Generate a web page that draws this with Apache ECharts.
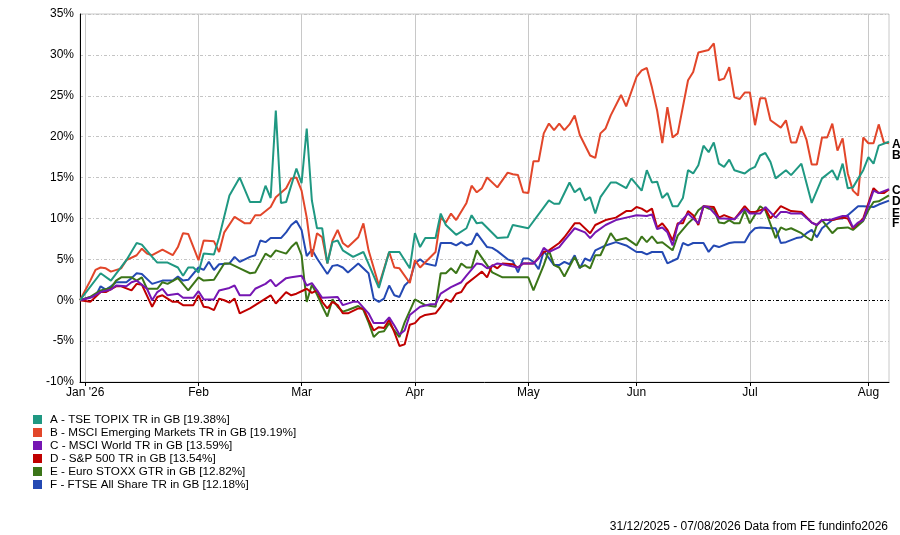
<!DOCTYPE html>
<html>
<head>
<meta charset="utf-8">
<title>Performance chart</title>
<script src="https://cdn.jsdelivr.net/npm/echarts@6/dist/echarts.min.js"></script>
<style>
  html, body { margin: 0; padding: 0; background: #fff; }
  #chart { width: 900px; height: 535px; }
</style>
</head>
<body>
<div id="chart"></div>
<script>
// trading days (weekdays) from 31/12/2025 to 07/08/2026
var days = [];
var d = new Date(Date.UTC(2025, 11, 31));
var endDay = Date.UTC(2026, 7, 7);
while (d.getTime() <= endDay) {
  if (d.getUTCDay() % 6 !== 0) days.push(d.toISOString().slice(0, 10));
  d.setUTCDate(d.getUTCDate() + 1);
}

// month tick labels
var monthLabels = ["Jan '26", 'Feb', 'Mar', 'Apr', 'May', 'Jun', 'Jul', 'Aug'];
var yTicks = { min: -10, max: 35, step: 5 };

var names = [
  'A - TSE TOPIX TR in GB [19.38%]',
  'B - MSCI Emerging Markets TR in GB [19.19%]',
  'C - MSCI World TR in GB [13.59%]',
  'D - S&P 500 TR in GB [13.54%]',
  'E - Euro STOXX GTR in GB [12.82%]',
  'F - FTSE All Share TR in GB [12.18%]'
];
var letters = ['A', 'B', 'C', 'D', 'E', 'F'];
var colors = ['#1f9882', '#e2462a', '#7616b3', '#c00000', '#3b7518', '#2449b3'];

// [trading day index, cumulative return %]
var topix = [[0,0],[4,3.3],[6,2.4],[9,4.9],[11,7.0],[12,6.8],[14,5.3],[15,4.6],[17,4.6],[19,4.0],[20,3.0],[21,4.0],[22,4.0],[23,3.4],[24,5.7],[26,5.6],[27,7.7],[29,12.8],[31,15.0],[33,12.0],[35,12.0],[36,14.0],[37,12.5],[38,23.2],[39,11.9],[40,12.0],[42,16.1],[43,14.3],[44,21.0],[45,12.2],[46,8.8],[47,8.8],[48,4.5],[49,7.1],[50,7.3],[51,6.1],[53,5.3],[55,5.9],[58,1.5],[60,5.9],[62,5.9],[64,3.9],[65,8.2],[66,6.5],[67,7.6],[69,7.6],[70,10.6],[71,9.2],[73,8.0],[75,8.8],[76,10.4],[77,9.4],[78,9.5],[81,7.6],[83,7.7],[84,9.2],[87,8.8],[91,12.2],[92,11.8],[93,11.8],[95,14.4],[96,13.2],[97,13.7],[98,12.2],[99,12.6],[100,10.6],[101,12.6],[103,14.4],[104,14.4],[106,13.7],[107,14.9],[109,13.4],[110,15.9],[111,14.4],[112,14.5],[113,12.5],[114,13.1],[115,11.5],[116,11.5],[117,12.5],[118,15.9],[119,15.5],[120,16.5],[121,18.9],[122,18.1],[123,19.3],[124,16.7],[125,16.3],[126,17.2],[127,15.9],[129,15.5],[130,16.0],[131,16.3],[132,17.7],[133,18.0],[134,16.9],[135,14.9],[137,15.9],[138,15.3],[140,16.7],[142,11.9],[144,14.9],[146,15.9],[147,14.7],[148,16.7],[149,13.7],[150,13.8],[152,15.9],[153,17.5],[154,16.7],[155,18.9],[157,19.38]];

var emerging = [[0,0],[2,2.4],[3,3.7],[4,4.0],[5,3.9],[6,3.5],[8,3.9],[9,4.9],[11,5.5],[12,6.3],[13,5.7],[14,5.5],[16,6.2],[18,5.5],[19,6.5],[20,8.2],[21,8.1],[23,4.9],[24,7.3],[26,7.2],[27,5.9],[28,8.3],[30,10.2],[32,9.4],[33,9.4],[34,10.4],[35,10.4],[37,11.4],[38,12.6],[40,13.7],[41,14.9],[42,15.0],[43,13.4],[44,10.1],[45,5.3],[46,8.2],[47,7.7],[48,4.5],[49,7.3],[50,8.6],[51,7.0],[52,6.5],[54,7.7],[55,9.4],[56,6.1],[58,1.8],[60,5.9],[61,4.0],[62,3.9],[64,2.1],[65,4.9],[66,4.0],[69,5.9],[70,10.1],[71,9.5],[72,10.6],[73,9.8],[75,11.9],[76,14.0],[77,13.2],[78,13.7],[79,15.0],[81,13.8],[83,15.6],[84,15.4],[85,15.3],[86,13.2],[87,13.1],[88,17.0],[89,17.0],[90,20.4],[91,21.6],[92,20.8],[93,21.6],[94,20.8],[95,21.5],[96,22.6],[97,20.2],[99,17.7],[100,17.4],[101,20.4],[102,21.0],[103,22.6],[105,25.1],[106,23.7],[108,27.3],[109,28.1],[110,28.4],[111,26.0],[112,23.2],[113,19.2],[114,23.6],[115,19.9],[116,20.4],[118,26.9],[119,27.9],[120,30.3],[122,30.6],[123,31.4],[124,26.9],[125,27.1],[126,28.5],[127,24.8],[128,24.6],[129,25.4],[130,25.4],[131,21.4],[132,24.7],[133,24.7],[134,22.0],[136,21.1],[137,22.0],[138,19.3],[139,19.3],[140,21.3],[141,19.6],[142,16.6],[143,16.6],[144,19.9],[145,19.9],[146,21.6],[147,18.3],[148,19.8],[149,15.5],[150,13.4],[151,12.8],[152,19.9],[153,19.2],[154,19.2],[155,21.5],[156,19.3],[157,19.19]];

var world = [[0,0],[2,0.3],[4,1.0],[6,1.3],[7,1.8],[9,1.7],[10,2.2],[11,2.4],[13,1.4],[14,0.0],[15,1.0],[16,1.4],[17,0.6],[19,0.8],[20,0.3],[22,0.3],[23,1.1],[24,0.1],[26,0.1],[27,1.2],[29,1.5],[30,1.8],[31,0.6],[33,0.6],[34,1.4],[36,2.0],[37,2.5],[38,1.7],[40,2.7],[41,2.8],[43,3.0],[44,1.8],[45,2.1],[46,1.2],[47,0.3],[50,0.4],[51,-0.6],[53,-0.2],[54,-0.2],[56,-1.6],[57,-2.8],[59,-2.8],[60,-2.1],[61,-3.1],[62,-4.2],[63,-3.7],[64,-1.8],[66,-0.8],[68,-0.5],[69,-0.5],[70,0.8],[71,1.2],[72,1.6],[74,2.2],[75,3.0],[77,4.5],[78,4.4],[79,3.9],[81,4.5],[82,4.4],[85,4.0],[86,4.5],[88,4.5],[89,5.1],[90,6.4],[91,5.9],[93,6.5],[94,7.3],[96,8.8],[98,8.3],[99,7.6],[100,8.3],[102,9.2],[104,9.8],[106,10.1],[108,10.4],[110,10.3],[111,10.5],[112,8.7],[113,8.9],[114,8.3],[115,6.7],[116,9.2],[118,10.6],[119,10.0],[120,9.4],[121,11.5],[122,11.4],[124,10.0],[125,10.0],[127,9.9],[129,11.2],[130,10.6],[132,10.6],[133,11.4],[135,10.1],[136,10.8],[137,10.8],[138,10.6],[140,10.6],[142,9.5],[143,9.2],[144,9.8],[145,9.8],[146,9.9],[148,10.3],[149,10.3],[150,8.9],[151,9.5],[152,9.8],[154,13.4],[155,13.1],[157,13.59]];

var sp500 = [[0,0],[2,-0.2],[3,0.4],[4,1.0],[5,1.0],[7,1.7],[8,1.7],[10,1.2],[11,2.0],[12,1.9],[14,-0.8],[15,0.4],[16,0.6],[18,-0.2],[19,-0.2],[20,-0.6],[22,-0.6],[23,0.6],[24,-0.8],[25,-0.9],[26,-1.2],[27,0.2],[28,0.0],[29,-0.3],[30,0.2],[31,-1.6],[33,-1.0],[35,-0.2],[36,0.2],[37,0.6],[38,-0.4],[40,1.0],[41,0.6],[42,0.8],[43,1.1],[44,1.4],[45,0.9],[46,1.2],[47,-0.2],[48,-1.0],[49,-0.2],[50,-0.6],[51,-1.6],[52,-1.6],[54,-1.0],[55,-1.0],[56,-2.4],[57,-3.7],[58,-3.3],[59,-3.4],[60,-2.4],[61,-3.9],[62,-5.6],[63,-5.4],[64,-3.0],[65,-2.8],[66,-2.1],[67,-1.8],[69,-1.6],[70,-0.8],[71,0.1],[72,-0.2],[73,0.8],[74,1.0],[75,2.0],[77,3.0],[78,3.5],[79,2.8],[80,4.3],[81,3.9],[82,4.5],[84,4.4],[85,4.0],[86,4.5],[88,4.5],[90,5.9],[91,6.1],[93,7.0],[94,7.7],[96,9.4],[97,9.4],[99,8.2],[100,9.2],[102,9.8],[104,10.1],[106,10.9],[107,10.9],[108,11.4],[109,11.2],[110,10.8],[111,11.2],[112,8.9],[113,9.4],[114,8.6],[115,7.3],[116,9.4],[117,9.4],[118,10.9],[119,10.4],[120,9.2],[121,11.5],[123,11.4],[124,10.1],[125,10.4],[127,9.9],[129,11.5],[130,10.8],[131,10.8],[133,11.2],[134,10.0],[136,11.5],[137,11.2],[138,10.9],[140,10.8],[142,9.5],[143,9.2],[144,9.8],[146,9.8],[148,10.1],[149,10.0],[150,8.8],[151,9.4],[152,10.0],[154,13.7],[155,13.1],[156,13.1],[157,13.54]];

var stoxx = [[0,0],[2,0.4],[4,1.2],[6,1.5],[7,2.4],[8,2.8],[10,2.8],[11,2.4],[12,2.8],[13,1.4],[15,1.4],[16,2.2],[17,2.0],[19,2.7],[21,1.2],[23,2.8],[24,2.4],[26,2.5],[28,4.5],[29,4.5],[31,3.9],[33,3.3],[34,3.4],[36,5.7],[37,5.3],[38,6.1],[40,5.7],[41,6.5],[42,7.1],[43,5.5],[44,-0.2],[45,1.9],[46,0.7],[47,-0.7],[48,-2.0],[49,0.1],[50,-0.8],[51,-1.4],[52,-1.2],[54,-0.7],[55,-1.2],[56,-2.7],[57,-4.5],[58,-3.9],[59,-3.8],[60,-2.8],[61,-3.7],[62,-4.5],[63,-2.7],[65,0.1],[67,-0.6],[69,-0.8],[70,3.3],[71,3.3],[72,3.9],[73,3.3],[74,4.5],[75,4.0],[76,4.0],[77,6.1],[79,4.3],[80,3.4],[82,2.8],[87,2.8],[88,1.2],[90,4.3],[91,6.1],[92,4.3],[93,4.0],[94,2.9],[96,5.3],[97,4.0],[98,4.3],[99,3.9],[100,5.5],[101,5.5],[103,8.2],[104,7.3],[106,7.6],[108,6.7],[109,7.8],[110,7.1],[111,7.8],[112,7.0],[113,7.1],[115,6.1],[116,7.9],[118,9.4],[119,10.0],[120,11.0],[121,11.5],[122,11.2],[123,11.2],[124,9.5],[125,9.4],[126,9.8],[127,9.4],[128,9.4],[129,11.0],[130,9.4],[132,11.5],[133,11.0],[135,7.6],[136,8.9],[137,8.6],[138,8.8],[140,8.2],[141,7.7],[142,7.3],[143,9.2],[144,9.8],[146,8.2],[147,8.8],[149,8.9],[150,8.6],[152,9.7],[153,11.0],[154,12.0],[155,12.1],[157,12.82]];

var ftse = [[0,0],[2,0.4],[3,0.5],[4,1.7],[5,1.3],[6,1.7],[7,2.2],[9,2.2],[10,2.7],[11,3.3],[12,3.2],[14,2.0],[16,2.4],[18,2.4],[19,2.9],[20,2.4],[21,2.5],[23,4.0],[24,3.7],[25,4.7],[26,3.7],[27,4.4],[29,4.5],[30,5.3],[31,4.7],[33,5.3],[34,5.5],[35,7.3],[36,7.1],[37,7.6],[39,7.6],[40,8.3],[41,9.2],[42,9.7],[43,8.6],[44,5.4],[45,6.2],[46,5.1],[48,3.2],[49,4.2],[50,4.3],[51,4.0],[52,3.4],[54,4.5],[56,3.3],[57,0.2],[58,-0.2],[59,0.2],[60,1.8],[61,0.6],[62,0.4],[63,1.8],[64,2.4],[65,4.5],[66,5.0],[67,4.5],[69,4.2],[70,7.0],[72,7.0],[73,6.7],[74,7.1],[75,6.7],[76,6.9],[77,8.2],[79,6.5],[80,6.4],[81,6.0],[83,5.0],[84,4.8],[85,3.4],[86,5.1],[87,5.1],[88,4.7],[89,3.8],[90,6.0],[92,4.3],[93,4.3],[94,4.7],[95,4.4],[96,5.5],[97,3.9],[98,5.1],[99,4.8],[100,6.1],[102,6.7],[104,7.1],[106,6.7],[108,5.9],[109,5.9],[110,5.6],[111,5.9],[113,5.9],[114,4.5],[116,5.1],[117,7.0],[118,6.7],[119,7.0],[121,7.0],[122,5.9],[123,6.7],[124,6.5],[126,7.0],[127,7.1],[129,7.1],[130,8.2],[131,8.8],[132,8.9],[134,8.8],[135,8.8],[136,7.0],[137,7.1],[139,7.6],[140,7.7],[141,8.2],[142,8.6],[143,7.7],[144,8.8],[146,9.8],[147,10.0],[148,10.0],[149,10.4],[151,11.5],[152,11.5],[154,11.4],[155,11.7],[157,12.18]];

var values = [topix, emerging, world, sp500, stoxx, ftse];
// vertical nudge of the A..F end letters so they do not overlap
var letterShift = [3, 12, 2, 12, 18, 23];

var font = 'Liberation Sans, Arial, sans-serif';

function isMonthStart(i) {
  return i > 0 && days[i].slice(5, 7) !== days[i - 1].slice(5, 7);
}

var series = [];
for (var k = values.length - 1; k >= 0; k--) {
  var s = {
    name: names[k],
    type: 'line',
    data: values[k],
    symbol: 'none',
    lineStyle: { width: 2, color: colors[k] },
    itemStyle: { color: colors[k] },
    endLabel: {
      show: true,
      formatter: letters[k],
      color: '#000',
      fontFamily: font,
      fontSize: 12,
      fontWeight: 'bold',
      distance: 3,
      offset: [0, letterShift[k]]
    },
    z: 10 - k
  };
  if (k === 0) {
    s.markLine = {
      silent: true,
      symbol: ['none', 'none'],
      label: { show: false },
      lineStyle: { color: '#000', type: [3, 2, 1, 2], width: 1 },
      data: [{ yAxis: 0 }]
    };
  }
  series.push(s);
}

var chart = echarts.init(document.getElementById('chart'));
chart.setOption({
  animation: false,
  backgroundColor: '#fff',
  title: {
    text: '31/12/2025 - 07/08/2026 Data from FE fundinfo2026',
    right: 12,
    bottom: 2,
    padding: 0,
    textStyle: { fontFamily: font, fontSize: 12, fontWeight: 'normal', color: '#000' }
  },
  legend: {
    data: names,
    orient: 'vertical',
    left: 33,
    top: 413,
    padding: 0,
    itemWidth: 9,
    itemHeight: 9,
    itemGap: 0,
    icon: 'rect',
    selectedMode: false,
    textStyle: { fontFamily: font, fontSize: 11.7, lineHeight: 13, color: '#000', padding: [0, 0, 0, 3] }
  },
  grid: {
    left: 80, right: 11, top: 14, bottom: 153,
    show: true, borderColor: '#c8c8c8', borderWidth: 1
  },
  xAxis: {
    type: 'category',
    data: days,
    boundaryGap: false,
    axisLine: { onZero: false, lineStyle: { color: '#000', width: 1 } },
    axisTick: { show: true, length: 4, interval: isMonthStart, lineStyle: { color: '#000' } },
    axisLabel: {
      interval: isMonthStart,
      color: '#000',
      fontFamily: font,
      fontSize: 12,
      margin: 5,
      formatter: function (v) { return monthLabels[parseInt(v.slice(5, 7), 10) - 1]; }
    },
    splitLine: { show: true, interval: isMonthStart, lineStyle: { color: '#c8c8c8', width: 1 } }
  },
  yAxis: {
    type: 'value',
    min: yTicks.min,
    max: yTicks.max,
    interval: yTicks.step,
    axisLine: { show: true, lineStyle: { color: '#000', width: 1 } },
    axisTick: { show: false },
    axisLabel: {
      color: '#000', fontFamily: font, fontSize: 12, margin: 6,
      formatter: '{value}%'
    },
    splitLine: { lineStyle: { color: '#c4c4c4', type: [3, 2, 1, 2], width: 1 } }
  },
  series: series
});
</script>
</body>
</html>
